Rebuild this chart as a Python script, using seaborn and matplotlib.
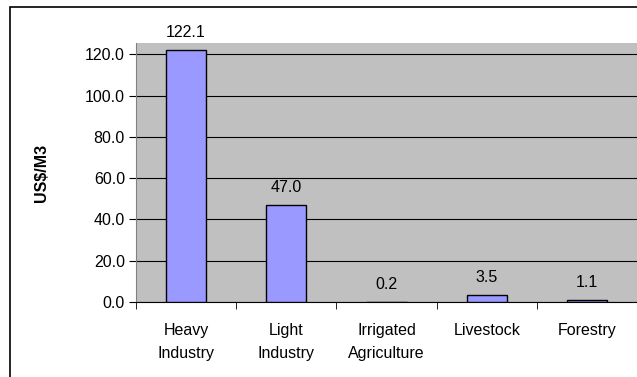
import numpy as np
import pandas as pd
import matplotlib.pyplot as plt
import seaborn as sns
from matplotlib.patches import Rectangle

# data
sectors = ['Heavy\nIndustry', 'Light\nIndustry', 'Irrigated\nAgriculture', 'Livestock', 'Forestry']
values = [122.1, 47.0, 0.2, 3.5, 1.1]

df = pd.DataFrame({'Sector': sectors, 'Value': values})

sns.set_style('white')
plt.rcParams['font.family'] = ['Liberation Sans', 'DejaVu Sans']
plt.rcParams['text.color'] = 'black'
plt.rcParams['xtick.color'] = 'black'
plt.rcParams['ytick.color'] = 'black'
plt.rcParams['axes.labelcolor'] = 'black'

fig = plt.figure(figsize=(6.37, 3.77), dpi=100)
ax = fig.add_axes([136/637, 75/377, 1 - 136/637, 259/377])

ax = sns.barplot(x='Sector', y='Value', data=df, color='#9999FF', saturation=1,
                 width=0.4, edgecolor='black', linewidth=1, ax=ax, zorder=3)
ax.set_facecolor('#C0C0C0')

# gridlines
ax.set_ylim(0, 125.5)
ax.set_yticks(np.arange(0, 121, 20))
ax.set_yticklabels([f'{v:.1f}' for v in np.arange(0, 121, 20)], fontsize=11.5)
ax.yaxis.grid(True, color='black', linewidth=0.8, zorder=0)
ax.set_axisbelow(True)
ax.set_xlim(-0.5, 4.5)

# x ticks between categories
ax.set_xticks(range(5))
ax.set_xticklabels(sectors, fontsize=11.5, linespacing=1.7)
ax.tick_params(axis='x', length=0, pad=15)
ax.set_xticks(np.arange(-0.5, 5, 1), minor=True)
ax.tick_params(axis='x', which='minor', length=5, color='black', direction='out', bottom=True)
ax.tick_params(axis='y', length=5, color='black', direction='out', left=True, pad=3)

for s in ['top', 'right']:
    ax.spines[s].set_visible(False)
ax.spines['left'].set_color('#808080')
ax.spines['bottom'].set_color('black')
ax.spines['left'].set_linewidth(0.8)
ax.spines['bottom'].set_linewidth(0.8)

# value labels
for i, v in enumerate(values):
    ax.annotate(f'{v:.1f}', (i, v), xytext=(0, 7), textcoords='offset points',
                ha='center', va='bottom', fontsize=11.5)

_ = ax.set_xlabel('')
_ = ax.set_ylabel('US$/M3', fontsize=11.5, fontweight='bold', labelpad=26)

# chart border
fig.patches.append(Rectangle((10/637, -0.1), 1.2, (377 - 7)/377 + 0.1,
                             transform=fig.transFigure, fill=False,
                             edgecolor='black', linewidth=1.2, zorder=10))

fig.savefig('out.png', dpi=100)
